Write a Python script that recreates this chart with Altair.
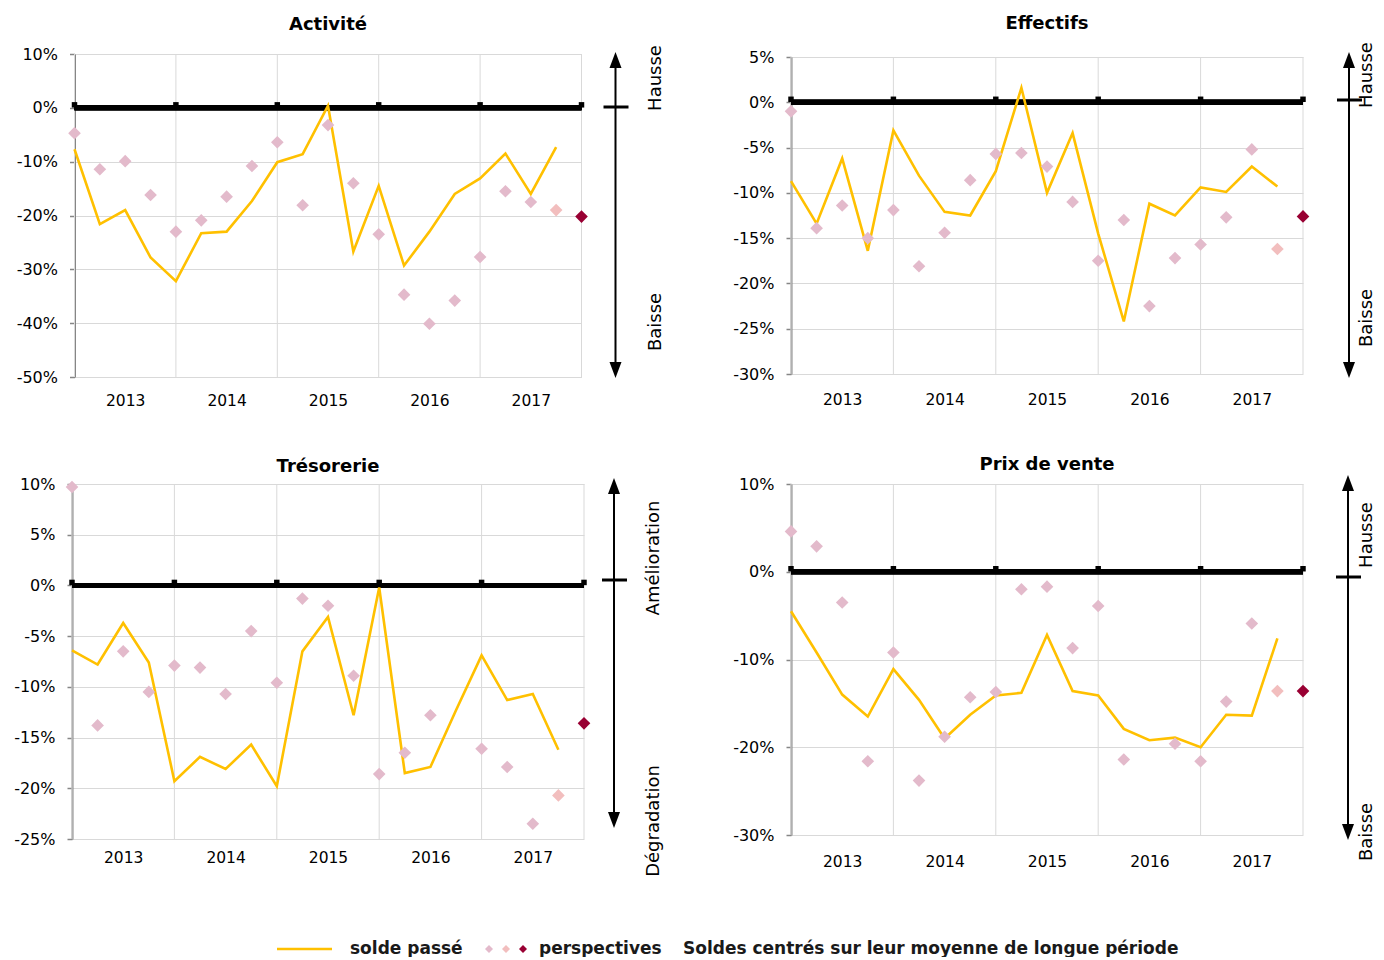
import json
import altair as alt
import pandas as pd

# ---------------- data ----------------
quarters = list(range(21))
year_labels = ["2013", "2014", "2015", "2016", "2017"]
year_label_pos = [2, 6, 10, 14, 18]
year_grid = [0, 4, 8, 12, 16, 20]

act_solde = [-7.7, -21.6, -19.0, -27.8, -32.2, -23.3, -23.0, -17.3, -10.1, -8.6, 0.4,
             -26.7, -14.5, -29.3, -23.0, -16.0, -13.1, -8.5, -16.0, -7.3]
act_persp = [-4.7, -11.4, -9.9, -16.2, -23.0, -20.9, -16.5, -10.8, -6.4, -18.1, -3.2,
             -14.0, -23.5, -34.7, -40.1, -35.8, -27.7, -15.5, -17.5, -19.0, -20.2]

eff_solde = [-8.7, -13.4, -6.2, -16.4, -3.1, -8.1, -12.1, -12.5, -7.6, 1.6, -10.0,
             -3.4, -14.5, -24.2, -11.2, -12.5, -9.4, -9.9, -7.1, -9.3]
eff_persp = [-1.0, -13.9, -11.4, -15.0, -11.9, -18.1, -14.4, -8.6, -5.7, -5.6, -7.1,
             -11.0, -17.5, -13.0, -22.5, -17.2, -15.7, -12.7, -5.2, -16.2, -12.6]

tres_solde = [-6.4, -7.8, -3.7, -7.6, -19.3, -16.9, -18.1, -15.7, -19.8, -6.5, -3.1,
              -12.8, -0.2, -18.5, -17.9, -12.3, -6.9, -11.3, -10.7, -16.2]
tres_persp = [9.7, -13.8, -6.5, -10.5, -7.9, -8.1, -10.7, -4.5, -9.6, -1.3, -2.0,
              -8.9, -18.6, -16.5, -12.8, None, -16.1, -17.9, -23.5, -20.7, -13.6]

prix_solde = [-4.5, -9.2, -14.0, -16.5, -11.1, -14.6, -19.0, -16.3, -14.1, -13.8, -7.2,
              -13.6, -14.1, -17.9, -19.2, -18.9, -20.0, -16.3, -16.4, -7.6]
prix_persp = [4.6, 2.9, -3.5, -21.6, -9.2, -23.8, -18.8, -14.3, -13.7, -2.0, -1.7,
              -8.7, -3.9, -21.4, None, -19.6, -21.6, -14.8, -5.9, -13.6, -13.6]

point_kinds = ["past"] * 19 + ["prev", "last"]

legend_labels = ["solde passé", "perspectives",
                 "Soldes centrés sur leur moyenne de longue période"]

# ---------------- style ----------------
FONT = "DejaVu Sans"
LINE_COLOR = "#FFC000"
PT_COLORS = ["#E3BACB", "#F2BEBE", "#990033"]
GRID = "#D9D9D9"
AXIS_GRAY = "#868686"

ARROW_UP = "M0,-1L0.75,1L-0.75,1Z"
ARROW_DOWN = "M0,1L0.75,-1L-0.75,-1Z"

label_expr = "%s[(datum.value - 2) / 4]" % json.dumps(year_labels)
kind_scale = alt.Scale(domain=["past", "prev", "last"], range=PT_COLORS)


def panel(title, solde, persp, ymin, ymax, ystep, W, H, ann, title_offset, xpad,
          with_legend=False):
    xs = alt.Scale(domain=[0, 20], nice=False, zero=False)
    ys = alt.Scale(domain=[ymin, ymax], nice=False, zero=False)
    yvals = list(range(ymin, ymax + 1, ystep))

    xaxis = alt.Axis(values=year_label_pos, labelExpr=label_expr, ticks=False,
                     domain=False, grid=False, labelFontSize=15.5,
                     labelPadding=xpad, labelFont=FONT, labelColor="#000", title=None)
    yaxis = alt.Axis(values=yvals, labelExpr="datum.value + '%'", grid=True,
                     gridColor=GRID, gridWidth=1, domainColor=AXIS_GRAY,
                     domainWidth=2, tickColor=AXIS_GRAY, tickSize=5, tickWidth=1.5,
                     labelFontSize=16, labelPadding=12, labelFont=FONT,
                     labelColor="#000", title=None)

    X = alt.X("q:Q", scale=xs, axis=xaxis)

    def Y(f):
        return alt.Y(f + ":Q", scale=ys, axis=yaxis)

    df_line = pd.DataFrame({"q": quarters[:len(solde)], "v": solde})
    df_pts = pd.DataFrame({"q": quarters, "v": persp, "k": point_kinds}).dropna()
    df_grid = pd.DataFrame({"q": year_grid, "v": [0] * len(year_grid)})
    one = pd.DataFrame({"a": [0]})

    vgrid = alt.Chart(df_grid).mark_rule(color=GRID, strokeWidth=1).encode(x=X)
    zero = alt.Chart(df_grid).mark_rule(color="#000", strokeWidth=5).encode(y=Y("v"))
    zero_ticks = alt.Chart(df_grid).mark_square(color="#000", size=30, opacity=1,
                                                 yOffset=-3).encode(x=X, y=Y("v"))
    line = alt.Chart(df_line).mark_line(color=LINE_COLOR, strokeWidth=2.6).encode(
        x=X, y=Y("v"))
    pts = alt.Chart(df_pts).mark_point(shape="diamond", filled=True, size=160,
                                       opacity=1).encode(
        x=X, y=Y("v"), color=alt.Color("k:N", scale=kind_scale, legend=None))

    ax, top, bot, tick_y, tx, ty1, ty2, t1, t2 = ann
    arrow_shaft = alt.Chart(one).mark_rule(color="#000", strokeWidth=2).encode(
        x=alt.value(ax), y=alt.value(top + 8), y2=alt.value(bot - 8))
    head_up = alt.Chart(one).mark_point(shape=ARROW_UP, filled=True, size=256,
                                        color="#000", opacity=1).encode(
        x=alt.value(ax), y=alt.value(top + 8))
    head_down = alt.Chart(one).mark_point(shape=ARROW_DOWN, filled=True, size=256,
                                          color="#000", opacity=1).encode(
        x=alt.value(ax), y=alt.value(bot - 8))
    arrow_tick = alt.Chart(one).mark_rule(color="#000", strokeWidth=3).encode(
        x=alt.value(ax - 12), x2=alt.value(ax + 13), y=alt.value(tick_y))
    txt_top = alt.Chart(pd.DataFrame({"t": [t1]})).mark_text(
        angle=270, font=FONT, fontSize=18, align="center", baseline="middle", color="#000"
    ).encode(x=alt.value(tx), y=alt.value(ty1), text="t:N")
    txt_bot = alt.Chart(pd.DataFrame({"t": [t2]})).mark_text(
        angle=270, font=FONT, fontSize=18, align="center", baseline="middle", color="#000"
    ).encode(x=alt.value(tx), y=alt.value(ty2), text="t:N")

    layers = [vgrid, zero, zero_ticks, line, pts,
              arrow_shaft, head_up, head_down, arrow_tick, txt_top, txt_bot]

    if with_legend:
        ly = 465
        leg_line = alt.Chart(one).mark_rule(color=LINE_COLOR, strokeWidth=2.5).encode(
            x=alt.value(205), x2=alt.value(260), y=alt.value(ly))
        leg_pts = [
            alt.Chart(one).mark_point(shape="diamond", filled=True, size=64, opacity=1,
                                      color=c).encode(x=alt.value(px), y=alt.value(ly))
            for px, c in zip([417, 434, 451], PT_COLORS)
        ]
        leg_txt = [
            alt.Chart(pd.DataFrame({"t": [t]})).mark_text(
                font=FONT, fontSize=17, fontWeight="bold", align="left",
                baseline="middle", color="#1a1a1a"
            ).encode(x=alt.value(px), y=alt.value(ly), text="t:N")
            for px, t in zip([278, 467, 611], legend_labels)
        ]
        layers += [leg_line] + leg_pts + leg_txt

    return alt.layer(*layers).properties(
        width=W, height=H,
        title=alt.TitleParams(title, font=FONT, fontSize=18, fontWeight="bold",
                              color="#000", offset=title_offset, anchor="middle"),
    )


p1 = panel("Activité", act_solde, act_persp, -50, 10, 10, 507, 323,
           (541, -2, 324, 53, 581, 24, 268, "Hausse", "Baisse"), 11, 16)
p2 = panel("Effectifs", eff_solde, eff_persp, -30, 5, 5, 512, 317,
           (558, -5, 321, 43, 576, 18, 261, "Hausse", "Baisse"), 9.5, 18)
p3 = panel("Trésorerie", tres_solde, tres_persp, -25, 10, 5, 512, 355,
           (542, -6, 344, 96, 582, 74, 337, "Amélioration", "Dégradation"), 0, 11,
           with_legend=True)
p4 = panel("Prix de vente", prix_solde, prix_persp, -30, 10, 10, 512, 351,
           (557, -9, 356, 93, 576, 51, 348, "Hausse", "Baisse"), 1, 19)

chart = alt.concat(
    p1, p2, p3, p4, columns=2, bounds="flush", center=True,
    spacing={"row": 107, "column": 207},
).configure_view(stroke=None, strokeWidth=0).properties(
    background="#ffffff",
    padding={"left": 5, "top": 6, "right": 0, "bottom": 0},
)

chart.save("out.html", embed_options={"renderer": "svg", "actions": False})
